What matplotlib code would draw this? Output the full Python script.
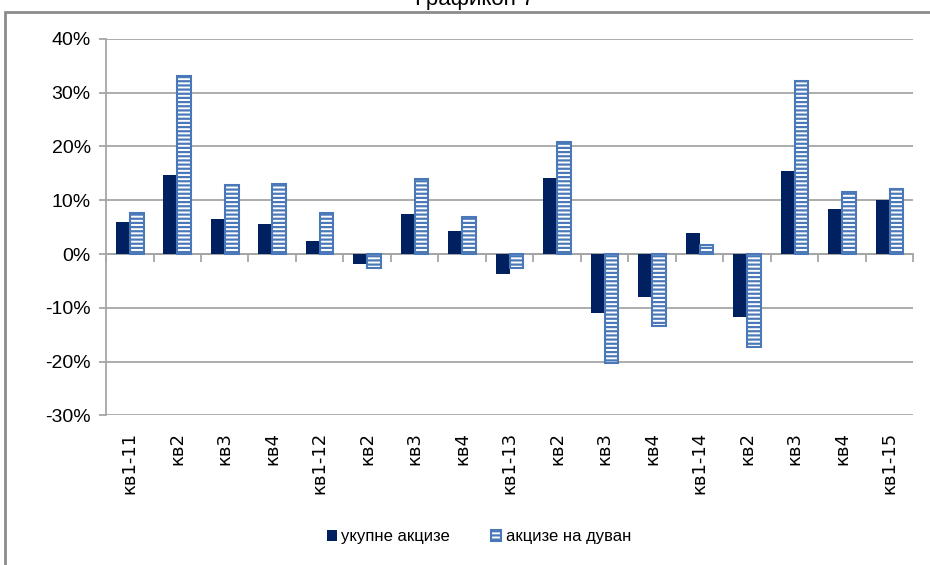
import matplotlib.pyplot as plt
import numpy as np
from matplotlib.patches import Rectangle
from matplotlib.ticker import PercentFormatter, MultipleLocator

# quarters, 2011 - 2015
categories = ['кв1-11', 'кв2', 'кв3', 'кв4',
              'кв1-12', 'кв2', 'кв3', 'кв4',
              'кв1-13', 'кв2', 'кв3', 'кв4',
              'кв1-14', 'кв2', 'кв3', 'кв4',
              'кв1-15']

# y/y growth, %
total_excise = [6.0, 14.7, 6.5, 5.6, 2.4, -1.9, 7.4, 4.3, -3.7, 14.2,
                -11.0, -8.0, 3.9, -11.7, 15.5, 8.4, 10.0]
tobacco_excise = [7.6, 33.1, 12.8, 13.0, 7.6, -2.6, 14.0, 6.9, -2.6, 20.9,
                  -20.3, -13.4, 1.7, -17.3, 32.2, 11.5, 12.1]

plt.rcParams['font.family'] = ['Liberation Sans', 'DejaVu Sans']
plt.rcParams['hatch.linewidth'] = 1.6
plt.rcParams['axes.unicode_minus'] = False

fig = plt.figure(figsize=(9.3, 5.65), dpi=100)
ax = fig.add_axes([0.114, 0.265, 0.868, 0.666])

# outer chart frame
fig.patches.append(Rectangle((5 / 930, -0.05), 1.0, 1 - 12 / 565 + 0.05,
                             transform=fig.transFigure, fill=False,
                             edgecolor='#8c8c8c', linewidth=2))
fig.text(0.51, 1 - 5 / 565, 'Графикон 7', ha='center', va='baseline',
         fontsize=16)

x = np.arange(len(categories))
w = 0.29
ax.bar(x - w / 2, total_excise, w, color='#002060', zorder=3,
       label='укупне акцизе')
ax.bar(x + w / 2, tobacco_excise, w, color='white', edgecolor='#4a78b8',
       hatch='----', linewidth=1.5, zorder=3, label='акцизе на дуван')

ax.set_xlim(-0.5, len(categories) - 0.5)
ax.set_ylim(-30, 40)
ax.yaxis.set_major_locator(MultipleLocator(10))
ax.yaxis.set_major_formatter(PercentFormatter(decimals=0))
ax.grid(axis='y', color='#a6a6a6', linewidth=1.3, zorder=0)

for s in ['top', 'right']:
    ax.spines[s].set_visible(False)
ax.spines['left'].set_color('#a6a6a6')
ax.spines['left'].set_linewidth(1.3)
ax.spines['bottom'].set_position(('data', 0))
ax.spines['bottom'].set_color('#a6a6a6')
ax.spines['bottom'].set_linewidth(1.3)

ax.set_xticks(x)
ax.set_xticklabels(categories, rotation=90, fontsize=13,
                   family=['DejaVu Sans'])
ax.set_xticks(np.arange(len(categories) + 1) - 0.5, minor=True)
ax.tick_params(axis='x', which='major', length=0, pad=128)
ax.tick_params(axis='x', which='minor', length=6, color='#a6a6a6', width=1.3)
ax.tick_params(axis='y', length=5, color='#a6a6a6', width=1.3,
               labelsize=14, pad=6)

fig.legend(loc='center', bbox_to_anchor=(0.515, 1 - 537 / 565), ncol=2,
           frameon=False, fontsize=12, handlelength=0.6, handleheight=0.6,
           handletextpad=0.25, columnspacing=2.5)

fig.savefig('out.png', dpi=100)
